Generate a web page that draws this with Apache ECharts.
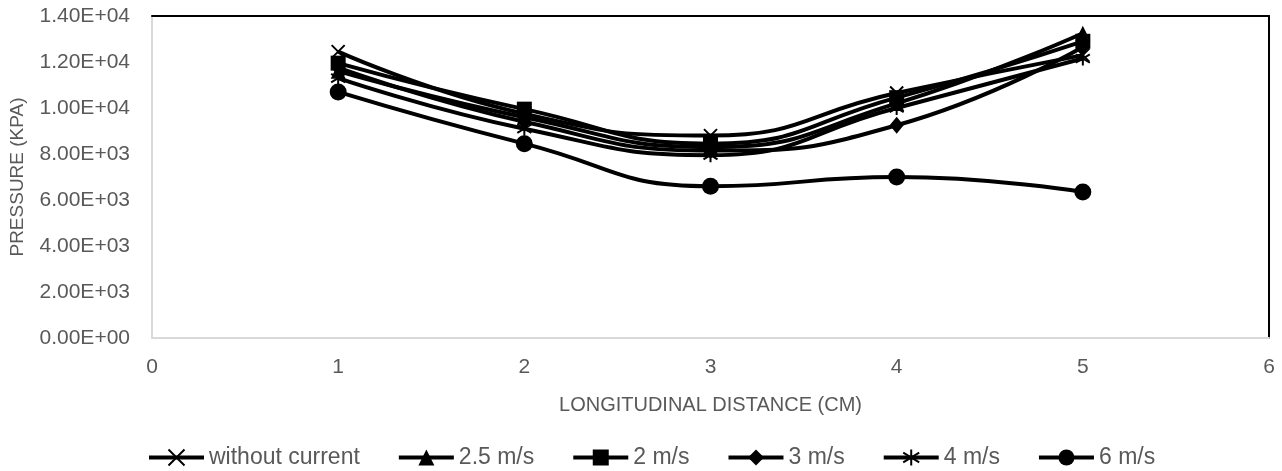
<!DOCTYPE html>
<html>
<head>
<meta charset="utf-8">
<script src="https://cdn.jsdelivr.net/npm/echarts@6/dist/echarts.min.js"></script>
<style>
html,body{margin:0;padding:0;background:#fff;}
#chart{width:1282px;height:471px;}
</style>
</head>
<body>
<div id="chart"></div>
<script>
// ---- data ----
const xValues = [1, 2, 3, 4, 5];
const seriesNames = ['without current', '2.5 m/s', '2 m/s', '3 m/s', '4 m/s', '6 m/s'];
const withoutCurrent = [12450, 9750, 8800, 10650, 12300];
const v2_5 = [11600, 9600, 8300, 10200, 13250];
const v2 = [11950, 9950, 8450, 10450, 12900];
const v3 = [11750, 9400, 8150, 9250, 12650];
const v4 = [11300, 9100, 7950, 10000, 12150];
const v6 = [10700, 8450, 6600, 7000, 6350];
const yTickLabels = ['0.00E+00', '2.00E+03', '4.00E+03', '6.00E+03', '8.00E+03', '1.00E+04', '1.20E+04', '1.40E+04'];
const xTickLabels = ['0', '1', '2', '3', '4', '5', '6'];

const valuesList = [withoutCurrent, v2_5, v2, v3, v4, v6];
const symbols = [
  'path://M0,0L10,10M0,10L10,0',
  'triangle',
  'rect',
  'diamond',
  'path://M5,0L5,10M0,2L10,8M0,8L10,2',
  'circle'
];
const symbolSizes = [13, 15, 15, [14, 17], 14, 17];

const FONT = '"Liberation Sans", Arial, sans-serif';
const GREY = '#595959';

const series = seriesNames.map((name, i) => ({
  name: name,
  type: 'line',
  data: xValues.map((x, j) => [x, valuesList[i][j]]),
  smooth: 0.5,
  symbol: symbols[i],
  symbolSize: symbolSizes[i],
  showAllSymbol: true,
  lineStyle: { color: '#000', width: 4 },
  itemStyle: { color: '#000', borderColor: '#000', borderWidth: (i === 0 || i === 4) ? 2 : 0 },
  emphasis: { disabled: true },
  animation: false
}));

const chart = echarts.init(document.getElementById('chart'), null, { renderer: 'canvas' });
chart.setOption({
  animation: false,
  backgroundColor: '#fff',
  grid: { left: 151, right: 13, top: 16, bottom: 133, containLabel: false },
  legend: {
    data: seriesNames,
    left: 142,
    top: 441,
    itemWidth: 55,
    itemHeight: 20,
    itemGap: 37,
    lineStyle: { width: 4, color: '#000' },
    textStyle: { fontFamily: FONT, fontSize: 23, color: GREY },
    selectedMode: false
  },
  xAxis: [{
    type: 'value',
    min: 0, max: 6, interval: 1,
    name: 'LONGITUDINAL DISTANCE (CM)',
    nameLocation: 'middle',
    nameGap: 57,
    nameTextStyle: { fontFamily: FONT, fontSize: 20, color: GREY },
    axisLine: { show: true, onZero: false, lineStyle: { color: '#d9d9d9', width: 2 } },
    axisTick: { show: false },
    splitLine: { show: false },
    axisLabel: { fontFamily: FONT, fontSize: 21, color: GREY, margin: 19,
      formatter: v => xTickLabels[Math.round(v)] }
  }, {
    type: 'value',
    position: 'top',
    min: 0, max: 6, interval: 1,
    axisLine: { show: true, onZero: false, lineStyle: { color: '#000', width: 2 } },
    axisTick: { show: false },
    axisLabel: { show: false },
    splitLine: { show: false }
  }],
  yAxis: [{
    type: 'value',
    min: 0, max: 14000, interval: 2000,
    name: 'PRESSURE (KPA)',
    nameLocation: 'middle',
    nameGap: 125,
    nameTextStyle: { fontFamily: FONT, fontSize: 19, color: GREY },
    axisLine: { show: true, onZero: false, lineStyle: { color: '#d9d9d9', width: 2 } },
    axisTick: { show: false },
    splitLine: { show: false },
    axisLabel: { fontFamily: FONT, fontSize: 21, color: GREY, margin: 22,
      formatter: v => yTickLabels[Math.round(v / 2000)] }
  }, {
    type: 'value',
    position: 'right',
    min: 0, max: 14000, interval: 2000,
    axisLine: { show: true, onZero: false, lineStyle: { color: '#000', width: 2 } },
    axisTick: { show: false },
    axisLabel: { show: false },
    splitLine: { show: false }
  }],
  series: series
});
</script>
</body>
</html>
